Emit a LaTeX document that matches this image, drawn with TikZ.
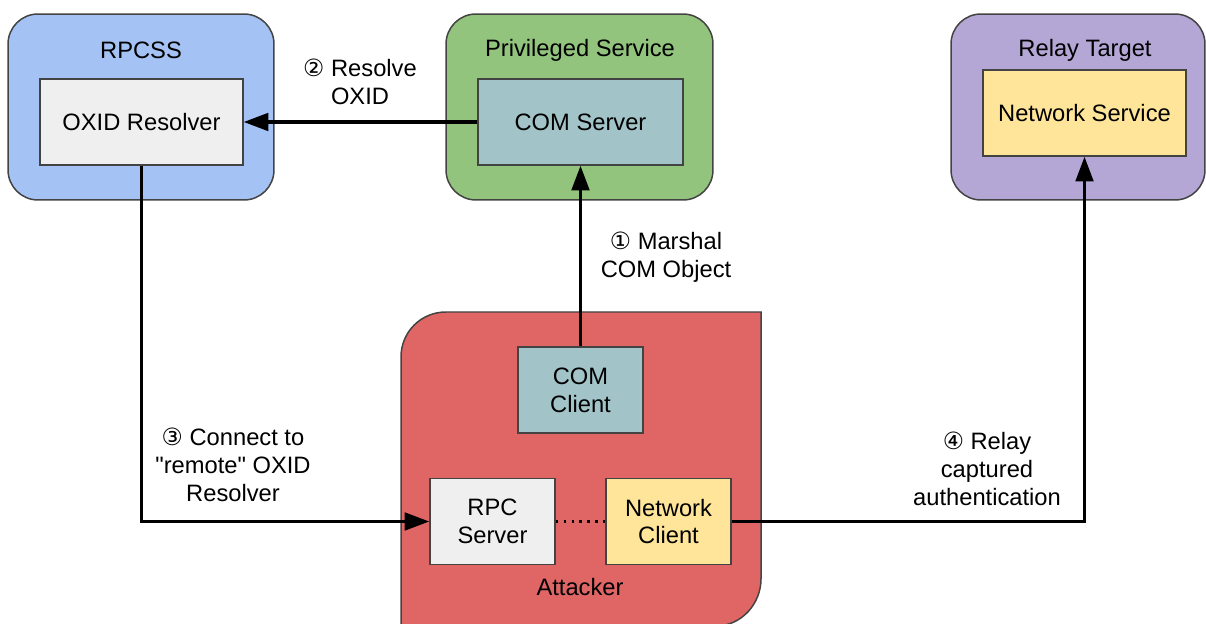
\documentclass[tikz,border=0pt]{standalone}
\usepackage{fontspec}
\setmainfont{Liberation Sans}[Ligatures=TeXOff]
\newfontfamily\circfont{DejaVu Sans}
\usetikzlibrary{positioning, arrows.meta}

\definecolor{framegray}{HTML}{434343}
\definecolor{rpcssblue}{HTML}{A4C2F4}
\definecolor{privgreen}{HTML}{93C47D}
\definecolor{relaypurple}{HTML}{B4A7D6}
\definecolor{attackred}{HTML}{E06666}
\definecolor{comteal}{HTML}{A2C4C9}
\definecolor{lightgray}{HTML}{EFEFEF}
\definecolor{netyellow}{HTML}{FFE599}

\begin{document}
\begin{tikzpicture}[
    x=0.02cm, y=-0.02cm,    % 1単位 = 1ピクセル（下向き）
    line width=0.85pt,
    >={Triangle[length=14pt, width=10pt]},
    font=\fontsize{13.5}{15.9}\selectfont,
    container/.style={draw=framegray, rounded corners=0.6cm, minimum height=3.72cm},
    component/.style={draw=framegray, align=center, minimum height=1.72cm},
    flow/.style={->, line width=1.8pt}
]

    % --- 0. 描画範囲 ---
    \clip (0,0) rectangle (1206,624);

    % --- 1. 外側の枠 ---
    \node [container, fill=rpcssblue, minimum width=5.32cm] (rpcss) at (141,107) {};
    \node [container, fill=privgreen, minimum width=5.34cm] (privsvc) at (579.5,107) {};
    \node [container, fill=relaypurple, minimum width=5.08cm] (relay) at (1078,107) {};

    % Attacker（左上と右下だけ丸い）
    \draw [draw=framegray, fill=attackred]
        (401,660) -- (401,357) .. controls (401,332) and (421,312) .. (446,312)
        -- (761,312) -- (761,579) .. controls (761,604) and (741,626) .. (716,626)
        -- (401,626) -- cycle;

    % 枠のタイトル
    \node (rpcss_title) at (141,50) {RPCSS};
    \node (privsvc_title) at (580,50) {Privileged Service};
    \node (relay_title) at (1085,50) {Relay Target};
    \node (attacker_title) at (580,587) {Attacker};

    % --- 2. 内側のコンポーネント ---
    \node [component, fill=lightgray, minimum width=4.06cm] (oxid) at (141.5,122) {OXID Resolver};
    \node [component, fill=comteal, minimum width=4.10cm] (comserver) at (580.5,122) {COM Server};
    \node [component, fill=netyellow, minimum width=4.06cm] (netservice) at (1084.5,113) {Network Service};
    \node [component, fill=comteal, minimum width=2.50cm] (comclient) at (580.5,390) {COM\\Client};
    \node [component, fill=lightgray, minimum width=2.50cm] (rpcserver) at (492.5,521.5) {RPC\\Server};
    \node [component, fill=netyellow, minimum width=2.50cm] (netclient) at (668.5,521.5) {Network\\Client};

    % --- 3. 矢印 ---
    \draw [flow] (comclient.north) -- (comserver.south);
    \draw [flow] (comserver.west) -- (oxid.east);
    \draw [flow] (oxid.south) |- (rpcserver.west);
    \draw [flow] (netclient.east) -| (netservice.south);
    \draw [line width=1.5pt, dash pattern=on 1.5pt off 3pt] (rpcserver.east) -- (netclient.west);

    % --- 4. 矢印のラベル ---
    \node [align=center] (step_marshal) at (666,257) {{\circfont ①} Marshal\\COM Object};
    \node [align=center] (step_resolve) at (360,82) {{\circfont ②} Resolve\\OXID};
    \node [align=center] (step_connect) at (233,465) {{\circfont ③} Connect to\\"remote" OXID\\Resolver};
    \node [align=center] (step_relay) at (987,469) {{\circfont ④} Relay\\captured\\authentication};

\end{tikzpicture}
\end{document}
